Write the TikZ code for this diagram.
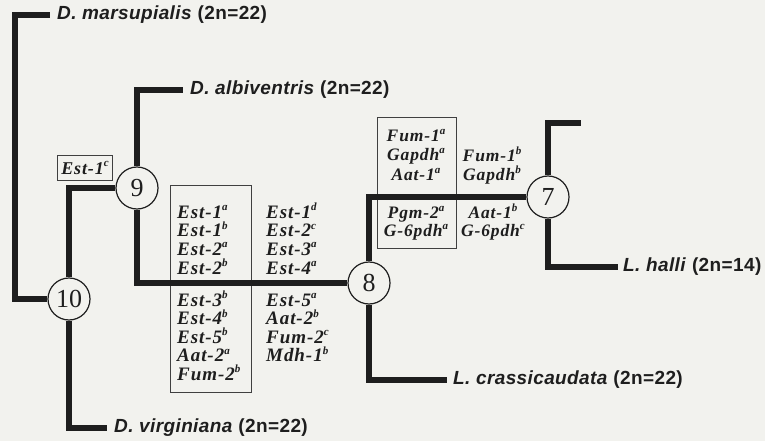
\documentclass[tikz,border=0pt]{standalone}
\usepackage{fontspec}
\setmainfont{Liberation Serif}
\newfontfamily\labfont[LetterSpace=2]{Liberation Sans}
\newfontfamily\genefont[LetterSpace=5]{Liberation Serif}
\definecolor{bg}{HTML}{F2F2EE}
\definecolor{ink}{HTML}{1E1E1E}
\newcommand\gsup[1]{\raisebox{0.85ex}{\fontsize{11}{11}\selectfont #1}}
\begin{document}
\begin{tikzpicture}[x=1pt,y=-1pt,
  branch/.style={line width=6.5pt, draw=ink, line join=miter},
  num/.style={circle, draw=ink, line width=1.2pt, fill=bg, minimum size=42pt, inner sep=0pt, font=\fontsize{26}{26}\selectfont, text=ink},
  lab/.style={anchor=west, inner sep=0pt, font=\labfont\bfseries\fontsize{19}{19}\selectfont, text=ink},
  gene/.style={anchor=base west, inner sep=0pt, font=\genefont\bfseries\itshape\fontsize{19}{19}\selectfont, text=ink},
  genec/.style={gene, anchor=base, font=\genefont\bfseries\itshape\fontsize{17.5}{17.5}\selectfont},
  gbox/.style={draw=ink!85, line width=1.1pt, inner sep=0pt}
]
\fill[bg] (0,0) rectangle (765,441);
\useasboundingbox (0,0) rectangle (765,441);

% boxes
\node[gbox, minimum width=81pt, minimum height=207pt, anchor=north west] (boxA) at (170,185) {};
\node[gbox, minimum width=79pt, minimum height=131pt, anchor=north west] (boxB) at (377,117) {};
\node[gbox, minimum width=55pt, minimum height=25pt, fill=bg, font=\genefont\bfseries\itshape\fontsize{18}{18}\selectfont, text=ink] (estc) at (85,168) {Est-1\gsup{c}};

% gene lists
\foreach \t [count=\i] in {Est-1\gsup{a},Est-1\gsup{b},Est-2\gsup{a},Est-2\gsup{b}}
  \node[gene] (ga\i) at (177,{199.3+18.7*\i}) {\t};
\foreach \t [count=\i] in {Est-3\gsup{b},Est-4\gsup{b},Est-5\gsup{b},Aat-2\gsup{a},Fum-2\gsup{b}}
  \node[gene] (gb\i) at (177,{287.5+18.5*\i}) {\t};
\foreach \t [count=\i] in {Est-1\gsup{d},Est-2\gsup{c},Est-3\gsup{a},Est-4\gsup{a}}
  \node[gene] (gc\i) at (266,{199.3+18.7*\i}) {\t};
\foreach \t [count=\i] in {Est-5\gsup{a},Aat-2\gsup{b},Fum-2\gsup{c},Mdh-1\gsup{b}}
  \node[gene] (gd\i) at (266,{287.5+18.5*\i}) {\t};

\foreach \t [count=\i] in {Fum-1\gsup{a},Gapdh\gsup{a},Aat-1\gsup{a}}
  \node[genec] (ge\i) at (416,{121.5+19.5*\i}) {\t};
\foreach \t [count=\i] in {Pgm-2\gsup{a},G-6pdh\gsup{a}}
  \node[genec] (gf\i) at (416,{200+18*\i}) {\t};
\foreach \t [count=\i] in {Fum-1\gsup{b},Gapdh\gsup{b}}
  \node[genec] (gg\i) at (492,{141.5+19.5*\i}) {\t};
\foreach \t [count=\i] in {Aat-1\gsup{b},G-6pdh\gsup{c}}
  \node[genec] (gh\i) at (493,{200+18*\i}) {\t};

% numbered nodes
\node[num] (n10) at (69,299) {10};
\node[num] (n9) at (137,188) {9};
\node[num] (n8) at (369,283) {8};
\node[num] (n7) at (548,197) {7};

% leaf ends
\coordinate (c1) at (15,15);
\coordinate (marsEnd) at (50,15);
\coordinate (albEnd) at (183,90);
\coordinate (virEnd) at (107,428);
\coordinate (craEnd) at (447,380);
\coordinate (topEnd) at (581,123);
\coordinate (halEnd) at (618,267);

% branches
\draw[branch] (n10.west) -| (c1) -- (marsEnd);
\draw[branch] (n9.north) |- (albEnd);
\draw[branch] (n9.west) -| (n10.north);
\draw[branch] (n10.south) |- (virEnd);
\draw[branch] (n9.south) |- (n8.west);
\draw[branch] (n8.north) |- (n7.west);
\draw[branch] (n8.south) |- (craEnd);
\draw[branch] (n7.north) |- (topEnd);
\draw[branch] (n7.south) |- (halEnd);

% labels
\node[lab] (lmars) at (57,15) {\textit{D. marsupialis} (2n=22)};
\node[lab] (lalb) at (190,90) {\textit{D. albiventris} (2n=22)};
\node[lab] (lvir) at (114,428) {\textit{D. virginiana} (2n=22)};
\node[lab] (lcra) at (453,380) {\textit{L. crassicaudata} (2n=22)};
\node[lab] (lhal) at (623,267) {\textit{L. halli} (2n=14)};
\end{tikzpicture}
\end{document}
